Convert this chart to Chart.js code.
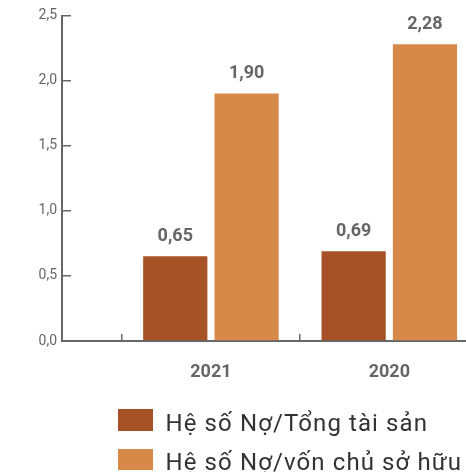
<!DOCTYPE html>
<html>
<head>
<meta charset="utf-8">
<script src="https://cdn.jsdelivr.net/npm/chart.js@4"></script>
<style>
  html, body { margin:0; padding:0; background:#fff; overflow:hidden; }
  #wrap { position:relative; width:466px; height:472px; }
  #legend { position:absolute; left:118px; top:409px; font-family:Roboto, sans-serif; }
  .row { display:flex; align-items:center; height:21.5px; margin-bottom:18px; white-space:nowrap; }
  .box { width:35px; height:21.5px; flex:none; }
  .txt { margin-left:12.5px; font-size:24px; color:#333; letter-spacing:1.1px; position:relative; top:3px; }
</style>
</head>
<body>
<div id="wrap">
  <canvas id="chart" width="466" height="472"></canvas>
  <div id="legend"></div>
</div>
<script>
// ===== Data =====
const categories = ["2021", "2020"];
const debtToAssets = [0.65, 0.69];
const debtToEquity = [1.90, 2.28];
const seriesNames = ["Hệ số Nợ/Tổng tài sản", "Hệ số Nợ/vốn chủ sở hữu"];
const seriesColors = ["#A65226", "#D7894A"];
const yTicks = [0, 0.5, 1, 1.5, 2, 2.5];

const fmt = (v, d) => v.toFixed(d).replace(".", ",");
const pts = arr => arr.map((v, i) => ({ x: i + 1, y: v }));

// value labels above each bar
const valueLabels = {
  id: "valueLabels",
  afterDatasetsDraw(chart) {
    const ctx = chart.ctx;
    ctx.save();
    ctx.font = "bold 18px Roboto";
    ctx.fillStyle = "#666";
    ctx.textAlign = "center";
    ctx.textBaseline = "middle";
    chart.data.datasets.forEach((ds, di) => {
      chart.getDatasetMeta(di).data.forEach((bar, i) => {
        ctx.fillText(fmt(ds.data[i].y, 2), bar.x, bar.y - 20);
      });
    });
    ctx.restore();
  }
};

new Chart(document.getElementById("chart"), {
  type: "bar",
  data: {
    datasets: [
      { label: seriesNames[0], data: pts(debtToAssets), backgroundColor: seriesColors[0] },
      { label: seriesNames[1], data: pts(debtToEquity), backgroundColor: seriesColors[1] }
    ]
  },
  options: {
    responsive: false,
    animation: false,
    layout: { padding: { top: 15.5, right: 0, bottom: 71, left: 0 } },
    plugins: { legend: { display: false }, tooltip: { enabled: false } },
    scales: {
      x: {
        type: "linear",
        offset: false,
        min: 0.165, max: 2.43,
        afterBuildTicks: s => { s.ticks = categories.map((c, i) => ({ value: i + 1 })); },
        afterFit: s => { s.height = 60; },
        ticks: {
          callback: (v, i) => categories[i],
          font: { family: "Roboto", size: 18, weight: "bold" },
          color: "#666", padding: 28, maxRotation: 0
        },
        grid: { offset: true, drawOnChartArea: false, tickLength: -7, color: "#666", lineWidth: 1.5 },
        border: { color: "#666", width: 2 }
      },
      y: {
        min: 0, max: 2.5,
        afterBuildTicks: s => { s.ticks = yTicks.map(v => ({ value: v })); },
        afterFit: s => { s.width = 62; s.paddingTop = 0; s.paddingBottom = 0; },
        ticks: {
          callback: v => fmt(v, 1),
          font: { family: "Roboto", size: 14 },
          color: "#666", padding: 14
        },
        grid: { drawOnChartArea: false, tickLength: -9, color: "#666", lineWidth: 1.5 },
        border: { color: "#666", width: 2 }
      }
    }
  },
  plugins: [valueLabels]
});

// legend
document.getElementById("legend").innerHTML = seriesNames.map((n, i) =>
  `<div class="row"><span class="box" style="background:${seriesColors[i]}"></span><span class="txt">${n}</span></div>`
).join("");
</script>
</body>
</html>
